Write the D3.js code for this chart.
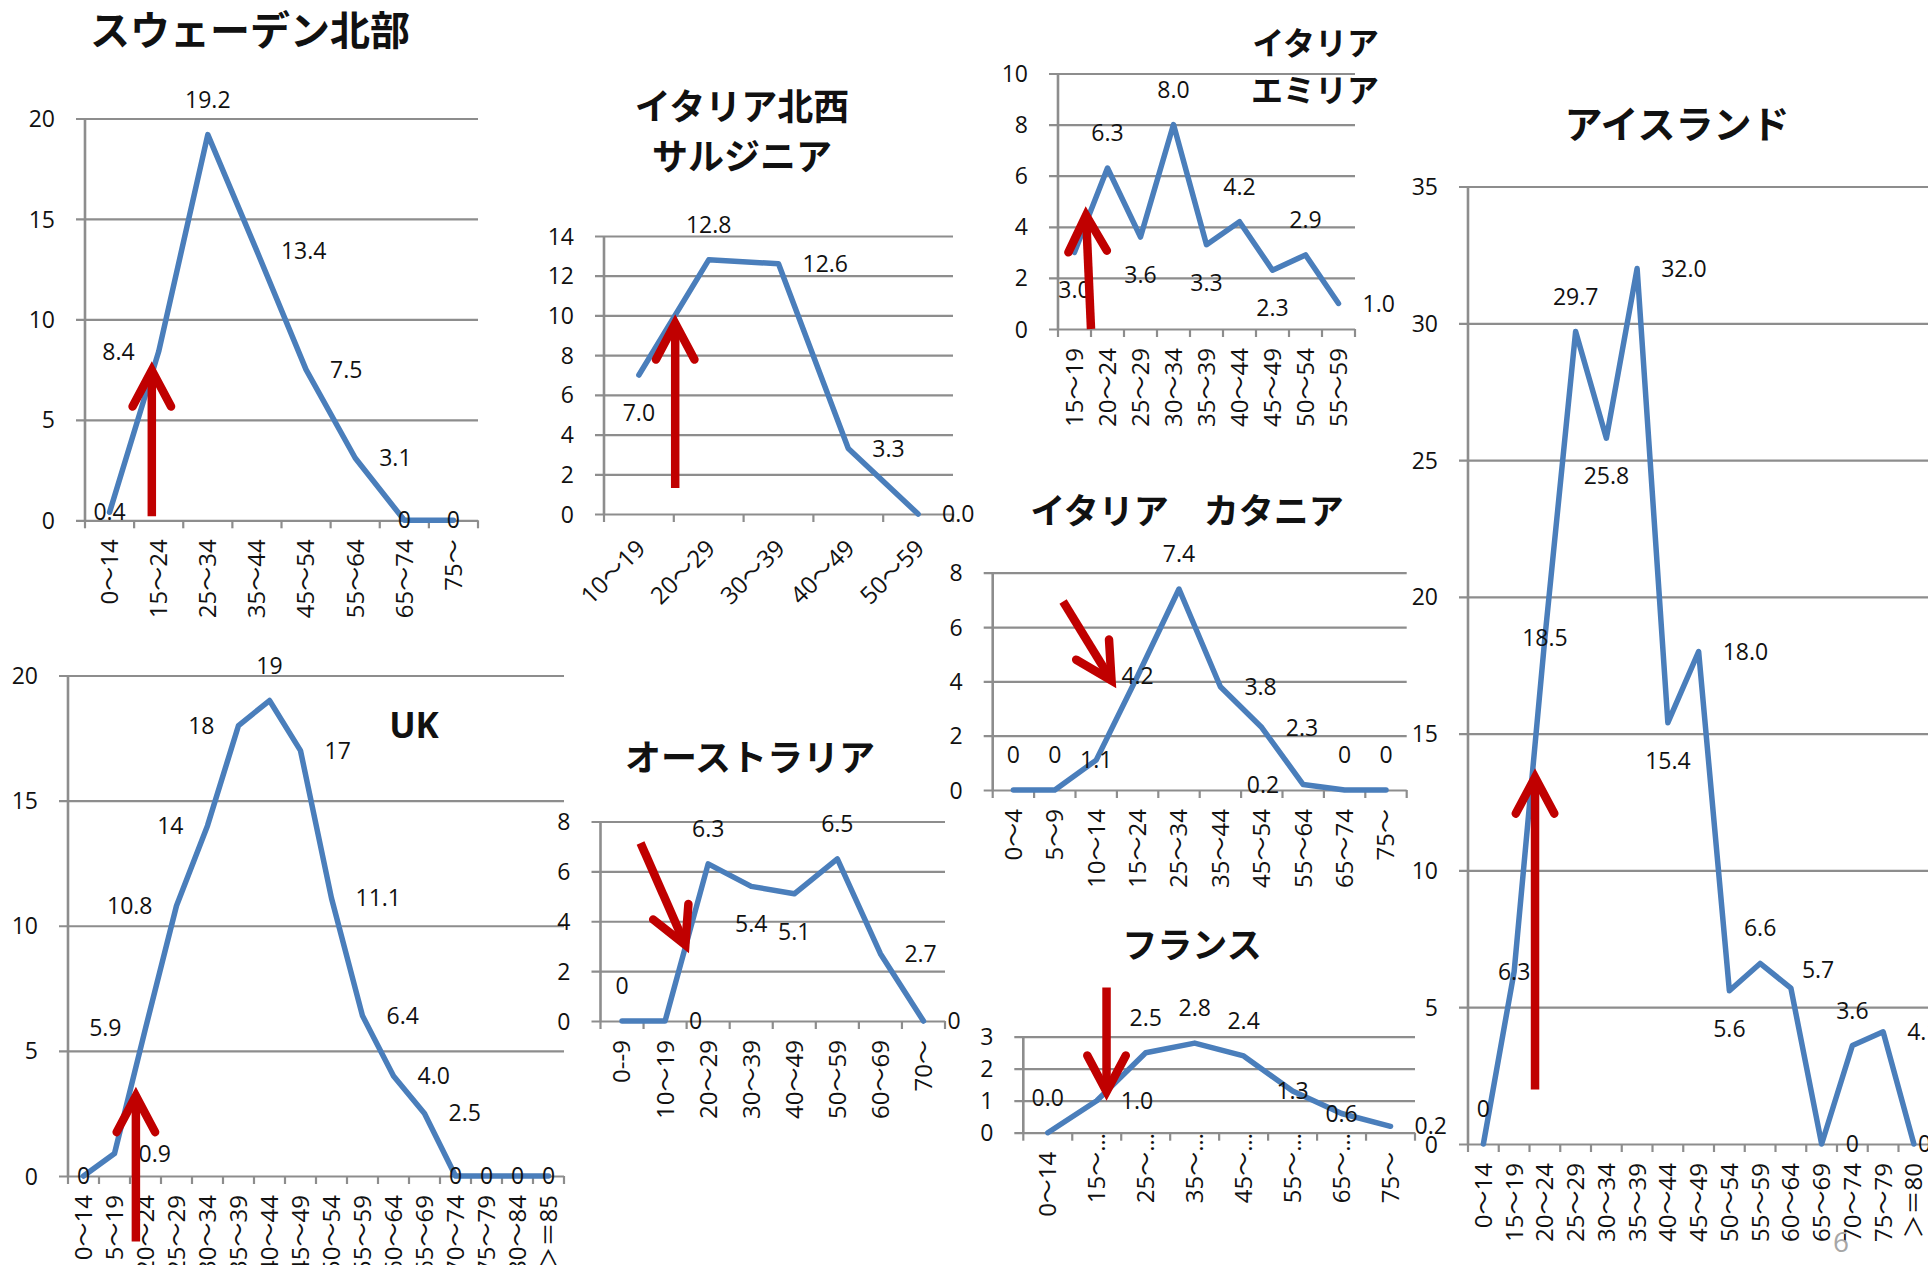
<!DOCTYPE html>
<html>
<head>
<meta charset="utf-8">
<script src="https://cdn.jsdelivr.net/npm/d3@7"></script>
<style>
  html, body { margin: 0; padding: 0; background: #ffffff; }
  svg { display: block; }
</style>
</head>
<body>
<svg id="chart" width="1928" height="1265"></svg>
<script>
// ---------- data: age-group rates per region ----------
// Each arrow is [tail index, tail value, head index, head value] in chart units.

const swedenAges = ["0～14", "15～24", "25～34", "35～44", "45～54", "55～64", "65～74", "75～"];
const swedenRates = [0.4, 8.4, 19.2, 13.4, 7.5, 3.1, 0, 0];
const swedenLabels = ["0.4", "8.4", "19.2", "13.4", "7.5", "3.1", "0", "0"];
const swedenLabelSides = ["c", "l", "t", "r", "r", "r", "c", "c"];
const swedenTicks = [0, 5, 10, 15, 20];
const swedenArrow = [0.86, 0.2, 0.86, 7.47];

const sardiniaAges = ["10～19", "20～29", "30～39", "40～49", "50～59"];
const sardiniaRates = [7.0, 12.8, 12.6, 3.3, 0.0];
const sardiniaLabels = ["7.0", "12.8", "12.6", "3.3", "0.0"];
const sardiniaLabelSides = ["b", "t", "r", "r", "r"];
const sardiniaTicks = [0, 2, 4, 6, 8, 10, 12, 14];
const sardiniaArrow = [0.52, 1.31, 0.52, 9.6];

const emiliaAges = ["15～19", "20～24", "25～29", "30～34", "35～39", "40～44", "45～49", "50～54", "55～59"];
const emiliaRates = [3.0, 6.3, 3.6, 8.0, 3.3, 4.2, 2.3, 2.9, 1.0];
const emiliaLabels = ["3.0", "6.3", "3.6", "8.0", "3.3", "4.2", "2.3", "2.9", "1.0"];
const emiliaLabelSides = ["b", "t", "b", "t", "b", "t", "b", "t", "r"];
const emiliaTicks = [0, 2, 4, 6, 8, 10];
const emiliaArrow = [0.5, 0, 0.35, 4.45];

const icelandAges = ["0～14", "15～19", "20～24", "25～29", "30～34", "35～39", "40～44", "45～49",
                     "50～54", "55～59", "60～64", "65～69", "70～74", "75～79", "＞＝80"];
const icelandRates = [0, 6.3, 18.5, 29.7, 25.8, 32.0, 15.4, 18.0, 5.6, 6.6, 5.7, 0, 3.6, 4.1, 0];
const icelandLabels = ["0", "6.3", "18.5", "29.7", "25.8", "32.0", "15.4", "18.0", "5.6", "6.6", "5.7", "0", "3.6", "4.1", "0"];
const icelandLabelSides = ["t", "c", "c", "t", "b", "r", "b", "r", "b", "t", "tr", "r", "t", "r", "rn"];
const icelandTicks = [0, 5, 10, 15, 20, 25, 30, 35];
const icelandArrow = [1.68, 1.99, 1.68, 13.4];

const ukAges = ["0～14", "15～19", "20～24", "25～29", "30～34", "35～39", "40～44", "45～49",
                "50～54", "55～59", "60～64", "65～69", "70～74", "75～79", "80～84", "＞＝85"];
const ukRates = [0, 0.9, 5.9, 10.8, 14, 18, 19, 17, 11.1, 6.4, 4.0, 2.5, 0, 0, 0, 0];
const ukLabels = ["0", "0.9", "5.9", "10.8", "14", "18", "19", "17", "11.1", "6.4", "4.0", "2.5", "0", "0", "0", "0"];
const ukLabelSides = ["c", "r", "l", "l", "l", "l", "t", "r", "r", "r", "r", "r", "c", "c", "c", "c"];
const ukTicks = [0, 5, 10, 15, 20];
const ukArrow = [1.69, -2.62, 1.69, 3.2];

const australiaAges = ["0--9", "10～19", "20～29", "30～39", "40～49", "50～59", "60～69", "70～"];
const australiaRates = [0, 0, 6.3, 5.4, 5.1, 6.5, 2.7, 0];
const australiaLabels = ["0", "0", "6.3", "5.4", "5.1", "6.5", "2.7", "0"];
const australiaLabelSides = ["t", "r", "t", "b", "b", "t", "r", "r"];
const australiaTicks = [0, 2, 4, 6, 8];
const australiaArrow = [0.43, 7.14, 1.47, 3.05];

const cataniaAges = ["0～4", "5～9", "10～14", "15～24", "25～34", "35～44", "45～54", "55～64", "65～74", "75～"];
const cataniaRates = [0, 0, 1.1, 4.2, 7.4, 3.8, 2.3, 0.2, 0, 0];
const cataniaLabels = ["0", "0", "1.1", "4.2", "7.4", "3.8", "2.3", "0.2", "0", "0"];
const cataniaLabelSides = ["t", "t", "c", "c", "t", "r", "r", "l", "t", "t"];
const cataniaTicks = [0, 2, 4, 6, 8];
const cataniaArrow = [1.2, 6.94, 2.37, 4.03];

const franceAges = ["0～14", "15～…", "25～…", "35～…", "45～…", "55～…", "65～…", "75～"];
const franceRates = [0.0, 1.0, 2.5, 2.8, 2.4, 1.3, 0.6, 0.2];
const franceLabels = ["0.0", "1.0", "2.5", "2.8", "2.4", "1.3", "0.6", "0.2"];
const franceLabelSides = ["t", "r", "t", "t", "t", "c", "c", "r"];
const franceTicks = [0, 1, 2, 3];
const franceArrow = [1.2, 4.54, 1.2, 1.28];

// ---------- layout of the slide ----------
const panels = [
  { ages: swedenAges, rates: swedenRates, labels: swedenLabels, sides: swedenLabelSides,
    ticks: swedenTicks, arrow: swedenArrow,
    box: { left: 85, right: 478, top: 118.5, bottom: 520.3 }, angle: -90,
    title: { lines: ["スウェーデン北部"], x: 250, y: 31, size: 40, anchor: "middle", gap: 0 } },
  { ages: sardiniaAges, rates: sardiniaRates, labels: sardiniaLabels, sides: sardiniaLabelSides,
    ticks: sardiniaTicks, arrow: sardiniaArrow,
    box: { left: 604, right: 953, top: 236, bottom: 514 }, angle: -45,
    title: { lines: ["イタリア北西", "サルジニア"], x: 742, y: 107, size: 36, anchor: "middle", gap: 50 } },
  { ages: emiliaAges, rates: emiliaRates, labels: emiliaLabels, sides: emiliaLabelSides,
    ticks: emiliaTicks, arrow: emiliaArrow,
    box: { left: 1058, right: 1355, top: 73.5, bottom: 329 }, angle: -90,
    title: { lines: ["イタリア", "エミリア"], x: 1379, y: 43, size: 32, anchor: "end", gap: 47 } },
  { ages: icelandAges, rates: icelandRates, labels: icelandLabels, sides: icelandLabelSides,
    ticks: icelandTicks, arrow: icelandArrow,
    box: { left: 1468, right: 1929.25, top: 186.5, bottom: 1144 }, angle: -90,
    title: { lines: ["アイスランド"], x: 1677, y: 124, size: 38, anchor: "middle", gap: 0 } },
  { ages: ukAges, rates: ukRates, labels: ukLabels, sides: ukLabelSides,
    ticks: ukTicks, arrow: ukArrow,
    box: { left: 68, right: 564, top: 675.5, bottom: 1176 }, angle: -90,
    title: { lines: ["UK"], x: 414, y: 725, size: 35, anchor: "middle", gap: 0, latin: true } },
  { ages: australiaAges, rates: australiaRates, labels: australiaLabels, sides: australiaLabelSides,
    ticks: australiaTicks, arrow: australiaArrow,
    box: { left: 600.5, right: 945, top: 821.5, bottom: 1021 }, angle: -90,
    title: { lines: ["オーストラリア"], x: 750, y: 758, size: 36, anchor: "middle", gap: 0 } },
  { ages: cataniaAges, rates: cataniaRates, labels: cataniaLabels, sides: cataniaLabelSides,
    ticks: cataniaTicks, arrow: cataniaArrow,
    box: { left: 992.7, right: 1406.7, top: 572.7, bottom: 790 }, angle: -90,
    title: { lines: ["イタリア　カタニア"], x: 1187, y: 511, size: 35, anchor: "middle", gap: 0 } },
  { ages: franceAges, rates: franceRates, labels: franceLabels, sides: franceLabelSides,
    ticks: franceTicks, arrow: franceArrow,
    box: { left: 1023.3, right: 1415, top: 1036.7, bottom: 1132.7 }, angle: -90,
    title: { lines: ["フランス"], x: 1192, y: 945, size: 35, anchor: "middle", gap: 0 } }
];

// ---------- styles ----------
const NUM_FONT = "'Open Sans', 'Noto Sans CJK JP', sans-serif";
const JP_FONT = "'Noto Sans CJK JP', 'Noto Sans', sans-serif";
const GRID = "#8d8d8d";
const LINE_BLUE = "#4a7ebb";
const ARROW_RED = "#c00000";
const TEXT = "#111111";

// Where a data label sits relative to its point.
const SIDE = {
  c:  { dx: 0,   dy: 0,   anchor: "middle" },
  t:  { dx: 0,   dy: -35, anchor: "middle" },
  b:  { dx: 0,   dy: 38,  anchor: "middle" },
  l:  { dx: -24, dy: 0,   anchor: "end" },
  r:  { dx: 24,  dy: 0,   anchor: "start" },
  tr: { dx: 11,  dy: -18, anchor: "start" },
  rn: { dx: 4,   dy: 0,   anchor: "start" }
};

const svg = d3.select("#chart");
svg.append("rect").attr("width", 1928).attr("height", 1265).attr("fill", "#ffffff");

function drawPanel(p) {
  const g = svg.append("g");
  const { left, right, top, bottom } = p.box;
  const maxTick = d3.max(p.ticks);

  const x = d3.scaleBand().domain(p.ages).range([left, right]).paddingInner(0).paddingOuter(0);
  const y = d3.scaleLinear().domain([0, maxTick]).range([bottom, top]);
  // fractional category index -> pixel (used by the annotation arrow)
  const pos = d3.scaleLinear().domain([-0.5, p.ages.length - 0.5]).range([left, right]);
  const cx = a => x(a) + x.bandwidth() / 2;

  // horizontal gridlines + value ticks
  const yAxis = d3.axisLeft(y)
    .tickValues(p.ticks)
    .tickSizeInner(-(right - left))
    .tickSizeOuter(0)
    .tickPadding(30)
    .tickFormat(d3.format("d"));
  const yg = g.append("g").attr("transform", `translate(${left},0)`).call(yAxis);
  yg.select(".domain").remove();
  yg.selectAll(".tick line")
    .attr("x1", -9)
    .attr("stroke", GRID)
    .attr("stroke-width", 2.2);
  yg.selectAll(".tick text")
    .attr("font-family", NUM_FONT)
    .attr("font-size", 23)
    .attr("fill", TEXT)
    .attr("dy", "0.35em");

  // vertical value axis line
  g.append("line")
    .attr("x1", left).attr("x2", left)
    .attr("y1", top).attr("y2", bottom + 1)
    .attr("stroke", GRID).attr("stroke-width", 2.6);

  // category boundary tick marks
  const edges = p.ages.map(a => x(a)).concat([right]);
  g.selectAll("line.edge").data(edges).enter().append("line")
    .attr("class", "edge")
    .attr("x1", d => d).attr("x2", d => d)
    .attr("y1", bottom).attr("y2", bottom + 8)
    .attr("stroke", GRID).attr("stroke-width", 2.2);

  // category labels
  const xAxis = d3.axisBottom(x).tickSize(0).tickPadding(0)
    .tickFormat(d => d.endsWith("…") ? d.slice(0, -1) : d);
  const xg = g.append("g").attr("transform", `translate(0,${bottom})`).call(xAxis);
  xg.select(".domain").remove();
  const rot = p.angle === -45 ? "translate(2,30) rotate(-45)" : "translate(0,19) rotate(-90)";
  xg.selectAll(".tick text")
    .attr("font-family", NUM_FONT)
    .attr("font-size", 24)
    .attr("fill", TEXT)
    .attr("text-anchor", "end")
    .attr("x", 0).attr("y", 0)
    .attr("dy", "0.35em")
    .attr("transform", rot);
  // truncated labels carry an ellipsis past the anchor point
  xg.selectAll(".tick").filter(d => d.endsWith("…"))
    .append("text")
    .attr("font-family", NUM_FONT)
    .attr("font-size", 24)
    .attr("fill", TEXT)
    .attr("text-anchor", "start")
    .attr("x", 0).attr("y", 0)
    .attr("dy", "0.35em")
    .attr("transform", rot)
    .text("…");

  // the series line
  const line = d3.line()
    .x((d, i) => cx(p.ages[i]))
    .y(d => y(d));
  g.append("path")
    .datum(p.rates)
    .attr("d", line)
    .attr("fill", "none")
    .attr("stroke", LINE_BLUE)
    .attr("stroke-width", 5.5)
    .attr("stroke-linejoin", "round")
    .attr("stroke-linecap", "round");

  // data labels
  g.selectAll("text.dl").data(p.rates).enter().append("text")
    .attr("class", "dl")
    .attr("x", (d, i) => cx(p.ages[i]) + SIDE[p.sides[i]].dx)
    .attr("y", (d, i) => y(d) + SIDE[p.sides[i]].dy)
    .attr("dy", "0.35em")
    .attr("text-anchor", (d, i) => SIDE[p.sides[i]].anchor)
    .attr("font-family", NUM_FONT)
    .attr("font-size", 23)
    .attr("fill", TEXT)
    .text((d, i) => p.labels[i]);

  // title
  const t = p.title;
  t.lines.forEach((ln, k) => {
    g.append("text")
      .attr("x", t.x)
      .attr("y", t.y + k * t.gap)
      .attr("dy", "0.36em")
      .attr("text-anchor", t.anchor)
      .attr("font-family", t.latin ? "'Open Sans', sans-serif" : JP_FONT)
      .attr("font-weight", 700)
      .attr("font-size", t.size)
      .attr("fill", TEXT)
      .text(ln);
  });

  // red annotation arrow
  const [i0, v0, i1, v1] = p.arrow;
  const x0 = pos(i0), y0 = y(v0), x1 = pos(i1), y1 = y(v1);
  const back = Math.atan2(y0 - y1, x0 - x1);
  const L = 41, spread = 28 * Math.PI / 180;
  const w1 = [x1 + L * Math.cos(back + spread), y1 + L * Math.sin(back + spread)];
  const w2 = [x1 + L * Math.cos(back - spread), y1 + L * Math.sin(back - spread)];
  const ag = g.append("g").attr("fill", "none").attr("stroke", ARROW_RED).attr("stroke-width", 8.5);
  ag.append("path").attr("d", `M${x0},${y0}L${x1},${y1}`).attr("stroke-linecap", "butt");
  ag.append("path").attr("d", `M${w1[0]},${w1[1]}L${x1},${y1}L${w2[0]},${w2[1]}`)
    .attr("stroke-linejoin", "miter").attr("stroke-linecap", "round");
}

panels.forEach(drawPanel);

// slide number
svg.append("text")
  .attr("x", 1841).attr("y", 1242)
  .attr("dy", "0.35em")
  .attr("text-anchor", "middle")
  .attr("font-family", NUM_FONT)
  .attr("font-size", 28)
  .attr("fill", "#a6a6a6")
  .text("6");
</script>
</body>
</html>
